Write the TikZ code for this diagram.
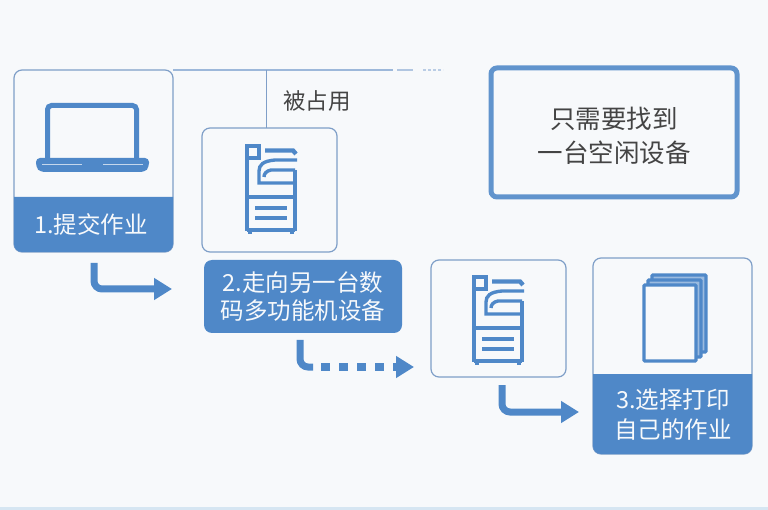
\documentclass[tikz,border=0pt]{standalone}
\usepackage{fontspec}
\usepackage{xcolor}
\usepackage{tikz}
\usetikzlibrary{positioning,arrows.meta}
\setmainfont{Noto Sans CJK SC}
\definecolor{mainblue}{HTML}{4F88C8}
\definecolor{framegray}{HTML}{7F9FC8}
\definecolor{rulegray}{HTML}{9DB8DA}
\definecolor{pagebg}{HTML}{F7F9FB}
\definecolor{pageline}{HTML}{D6E6F2}
\definecolor{textgray}{HTML}{444444}

\begin{document}
\begin{tikzpicture}[
    x = 1pt, y = -1pt,
    box/.style = {draw=framegray, line width=1.2pt, fill=pagebg, rounded corners=8pt, inner sep=0pt, outer sep=0pt},
    tag/.style = {fill=mainblue, rounded corners=8pt, inner sep=0pt, outer sep=0pt, text=pagebg, align=center, font=\fontsize{23.5}{28}\selectfont},
    caption/.style = {text=pagebg, align=center, inner sep=0pt, font=\fontsize{23.5}{30}\selectfont},
    note/.style = {text=textgray, align=center, inner sep=0pt, font=\fontsize{25.5}{34}\selectfont},
    rule/.style = {draw=rulegray, line width=2.6pt},
    elbow/.style = {draw=mainblue, line width=7pt, rounded corners=8pt},
    icon/.style = {draw=mainblue, line width=4.4pt},
    > = {Triangle[length=18pt, width=21pt]},
    copier/.pic = {
        \draw[icon, line width=3.5pt] (2,2) rectangle (14,14);
        \draw[icon] (20,6.5) -- (48,6.5) -- (51,10);
        \draw[icon, line width=3.4pt] (52,16) -- (30,16) .. controls (18,17) and (14,21) .. (14,27) -- (14,39) -- (50,39);
        \draw[icon, line width=3.4pt] (50,26) -- (26,26) .. controls (21,27) and (19,30) .. (19,33);
        \draw[icon] (50,26) -- (50,87) (2,14) -- (2,87) (2,53) -- (50,53) (2,86) -- (50,86);
        \draw[icon] (10,64) -- (42,64) (10,74) -- (42,74);
        \draw[icon] (5,87) -- (5,90) (47,87) -- (47,90);
    },
    sheet/.style = {draw=mainblue, line width=3.2pt, rounded corners=1pt}
]
\path[fill=pagebg] (0,0) rectangle (768,510);
\path[fill=pageline] (0,507) rectangle (768,510);
\useasboundingbox (0,0) rectangle (768,510);

\node (pcbox) [box, minimum width=159pt, minimum height=182pt] at (93.5,161) {};
\node (copybox) [box, minimum width=135pt, minimum height=124pt, below right=58pt and 29pt of pcbox.north east] {};
\node (walk) [tag, minimum width=198pt, minimum height=73pt, below right=8pt and 2pt of copybox.south west] {2.走向另一台数\\码多功能机设备};
\node (freebox) [box, minimum width=135pt, minimum height=117pt, below right=8pt and 94pt of copybox.south east] {};
\node (paperbox) [box, minimum width=159pt, minimum height=196pt, right=27pt of freebox.north east, anchor=north west, yshift=2pt] {};
\node (hint) [draw=mainblue!90!white, line width=5pt, fill=pagebg, rounded corners=6pt, minimum width=246pt, minimum height=129pt] at (614,132.5) {};
\node (hinttext) [note] at ([yshift=-3pt]hint) {只需要找到\\一台空闲设备};

% blue bottoms of the two cards
\path[fill=mainblue] (pcbox.west |- 0,197) -- (pcbox.east |- 0,197) [rounded corners=8pt] -- (pcbox.south east) -- (pcbox.south west) [sharp corners] -- cycle;
\path[fill=mainblue] (paperbox.west |- 0,374) -- (paperbox.east |- 0,374) [rounded corners=8pt] -- (paperbox.south east) -- (paperbox.south west) [sharp corners] -- cycle;
\node (submit) [caption] at (91,224.5) {1.提交作业};
\node (choose) [caption] at (673,415) {3.选择打印\\自己的作业};
\node (busy) [note, font=\fontsize{22.5}{27}\selectfont] at (317,101) {被占用};

% top rule, fading out
\coordinate (tap) at (266.5,70);
\coordinate (ruleend) at (393,70);
\coordinate (dashstart) at (397,70);
\coordinate (dashend) at (413,70);
\coordinate (dotstart) at (423,70);
\coordinate (dotend) at (443,70);
\draw[rule] (pcbox.north east) -- (ruleend);
\draw[rule, draw=rulegray!80!white] (dashstart) -- (dashend);
\draw[rule, draw=rulegray!70!white, dash pattern=on 2.5pt off 2.5pt] (dotstart) -- (dotend);
\draw[draw=framegray, line width=1.2pt] (tap) -- (tap |- copybox.north);

% laptop
\draw[icon, line width=5pt, rounded corners=4pt] (47.5,160) -- (47.5,105.5) -- (136.5,105.5) -- (136.5,160);
\fill[mainblue, rounded corners=4pt] (36,158) -- (149,158) -- (149,167) -- (145,172) -- (40,172) -- (36,167) -- cycle;
\draw[pagebg!70!mainblue, line width=1.6pt] (42,164.5) -- (82,164.5) (103,164.5) -- (143,164.5);

% copiers
\pic at (245,144) {copier};
\pic at (472,275) {copier};

% stack of sheets
\draw[sheet, fill=mainblue!55!pagebg] (652,275) rectangle (706,352);
\draw[sheet, fill=mainblue!55!pagebg] (648,280) rectangle (701,357);
\draw[sheet, fill=pagebg] (644,285) rectangle (696,361);

% arrows
\coordinate (a1) at (94,263);
\coordinate (a1end) at (172,289);
\coordinate (a2) at (300,340);
\coordinate (a2mid) at (313,367);
\coordinate (a2dots) at (321,367);
\coordinate (a2end) at (414,367);
\coordinate (a3) at (502,385);
\coordinate (a3end) at (579,412);
\draw[elbow, ->] (a1) |- (a1end);
\draw[elbow] (a2) |- (a2mid);
\draw[draw=mainblue, line width=8pt, dash pattern=on 9pt off 9pt, ->] (a2dots) -- (a2end);
\draw[elbow, ->] (a3) |- (a3end);
\end{tikzpicture}
\end{document}
